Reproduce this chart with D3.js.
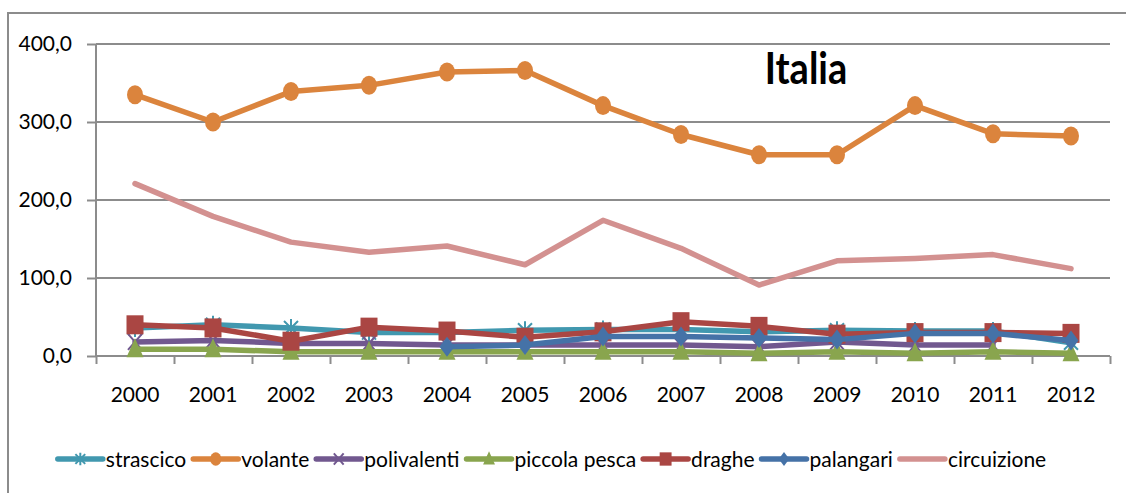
<!DOCTYPE html>
<html>
<head>
<meta charset="utf-8">
<script src="https://cdnjs.cloudflare.com/ajax/libs/d3/7.8.5/d3.min.js"></script>
<style>
body { margin:0; background:#fff; }
svg text { font-family:Lato,"Open Sans",sans-serif; fill:#000; }
</style>
</head>
<body>
<svg id="chart"></svg>
<script>
// categories
var years = ["2000","2001","2002","2003","2004","2005","2006","2007","2008","2009","2010","2011","2012"];
var yTicks = [0,100,200,300,400];

// series values
var strascico   = [36,40,36,30,30,33,34,34,31,33,32,32,17];
var volante     = [335,300,339,347,364,366,321,284,258,258,321,285,282];
var polivalenti = [18,20,16,16,14,14,14,14,12,18,14,14,null];
var piccolaPesca= [8.5,8.5,5.5,5.5,5.5,5.5,5.5,5.5,3.5,5.5,3.5,5.5,3.5];
var draghe      = [40,36,19,37,32,24,31,44,38,28,30,30,29];
var palangari   = [null,null,null,null,12,14,25,25,23,21,29,29,20];
var circuizione = [221,179,146,133,141,117,174,138,91,122,125,130,112];

var seriesNames = ["strascico","volante","polivalenti","piccola pesca","draghe","palangari","circuizione"];
var seriesValues = [strascico,volante,polivalenti,piccolaPesca,draghe,palangari,circuizione];
var seriesColors = ["#4198AF","#DB843D","#71588F","#89A54E","#AA4643","#4572A7","#D39190"];
var seriesMarkers = ["star","circle","x","triangle","square","diamond","none"];

var screen = {width:1126,height:493};
var plot = {left:96,right:1110,top:44,bottom:356};

var svg = d3.select("#chart")
    .attr("width",screen.width)
    .attr("height",screen.height);

// outer frame (only top and left visible)
svg.append("path")
    .attr("d","M8,1200 L8,13 L1200,13")
    .attr("fill","none")
    .attr("stroke","#8c8c8c")
    .attr("stroke-width",2);

var xScale = d3.scaleBand()
    .domain(years)
    .range([plot.left,plot.right]);

var xEdges = d3.scaleLinear()
    .domain([0,years.length])
    .range([plot.left,plot.right]);

var yScale = d3.scaleLinear()
    .domain([0,400])
    .range([plot.bottom,plot.top]);

// gridlines
svg.append("g")
    .selectAll("line")
    .data(yTicks.slice(1))
    .enter()
    .append("line")
    .attr("x1",plot.left)
    .attr("x2",plot.right)
    .attr("y1",function(d){return yScale(d);})
    .attr("y2",function(d){return yScale(d);})
    .attr("stroke","#8c8c8c")
    .attr("stroke-width",2);

var fmt = function(d){ return d3.format(".1f")(d).replace(".",","); };

var yAxis = svg.append("g")
    .attr("transform","translate("+plot.left+",0)")
    .call(d3.axisLeft(yScale).tickValues(yTicks).tickSize(9).tickPadding(15).tickFormat(fmt));
yAxis.selectAll("line,path").attr("stroke","#8c8c8c").attr("stroke-width",2);
yAxis.select(".domain").attr("d","M0,"+plot.top+"V"+plot.bottom);
yAxis.selectAll("text").style("font-size","21px");

var xTicks = svg.append("g")
    .attr("transform","translate(0,"+plot.bottom+")")
    .call(d3.axisBottom(xEdges).tickValues(d3.range(years.length+1)).tickSize(8).tickFormat(""));
xTicks.selectAll("line,path").attr("stroke","#8c8c8c").attr("stroke-width",2);
xTicks.select(".domain").attr("d","M"+plot.left+",0H"+plot.right);

var xLabels = svg.append("g")
    .attr("transform","translate(0,"+plot.bottom+")")
    .call(d3.axisBottom(xScale).tickSize(0).tickPadding(31));
xLabels.select(".domain").remove();
xLabels.selectAll("text").style("font-size","21px");

// marker drawing; s = size factor
var drawMarker = function(g,type,color,s)
{
    if(type=="circle")
    {
        g.append("ellipse").attr("rx",8*s).attr("ry",9.5*s).attr("fill",color);
    }
    else if(type=="square")
    {
        g.append("rect").attr("x",-8.5*s).attr("y",-9.5*s).attr("width",17*s).attr("height",19*s).attr("fill",color);
    }
    else if(type=="triangle")
    {
        g.append("path").attr("d","M0,"+(-11*s)+"L"+(8.5*s)+","+(8*s)+"L"+(-8.5*s)+","+(8*s)+"Z").attr("fill",color);
    }
    else if(type=="diamond")
    {
        g.append("path").attr("d","M0,"+(-10*s)+"L"+(7.5*s)+",0L0,"+(10*s)+"L"+(-7.5*s)+",0Z").attr("fill",color);
    }
    else if(type=="x")
    {
        g.append("path").attr("d","M"+(-7*s)+","+(-8*s)+"L"+(7*s)+","+(8*s)+"M"+(7*s)+","+(-8*s)+"L"+(-7*s)+","+(8*s))
            .attr("stroke",color).attr("stroke-width",2);
    }
    else if(type=="star")
    {
        g.append("path").attr("d","M0,"+(-9*s)+"V"+(9*s)+"M"+(-7*s)+","+(-7*s)+"L"+(7*s)+","+(7*s)+"M"+(7*s)+","+(-7*s)+"L"+(-7*s)+","+(7*s))
            .attr("stroke",color).attr("stroke-width",2);
    }
}

var lineGenerator = d3.line()
    .defined(function(d){return d.v!=null;})
    .x(function(d){return xScale(d.year)+xScale.bandwidth()/2;})
    .y(function(d){return yScale(d.v);});

var seriesG = svg.append("g").attr("id","series");

seriesNames.forEach(function(name,i)
{
    var pts = years.map(function(y,j){return {year:y,v:seriesValues[i][j]};});
    var g = seriesG.append("g");
    g.append("path")
        .datum(pts)
        .attr("d",lineGenerator)
        .attr("fill","none")
        .attr("stroke",seriesColors[i])
        .attr("stroke-width",5.5)
        .attr("stroke-linejoin","round")
        .attr("stroke-linecap","round");
    if(seriesMarkers[i]!="none")
    {
        g.selectAll("g.mk")
            .data(pts.filter(function(d){return d.v!=null;}))
            .enter()
            .append("g")
            .classed("mk",true)
            .attr("transform",function(d){return "translate("+(xScale(d.year)+xScale.bandwidth()/2)+","+yScale(d.v)+")";})
            .each(function(){ drawMarker(d3.select(this),seriesMarkers[i],seriesColors[i],1); });
    }
});

// title
svg.append("text")
    .text("Italia")
    .attr("transform","translate(806,84) scale(1,1.15)")
    .attr("text-anchor","middle")
    .style("font-size","38px")
    .style("font-weight","bold");

// legend
var legend = svg.append("g").attr("id","legend");
var legendY = 459;
var lineLen = 45;
var items = [];
var cursor = 0;
seriesNames.forEach(function(name,i)
{
    var g = legend.append("g");
    g.append("line")
        .attr("x1",0).attr("x2",lineLen)
        .attr("stroke",seriesColors[i])
        .attr("stroke-width",5.5)
        .attr("stroke-linecap","round");
    var mk = g.append("g").attr("transform","translate("+(lineLen/2)+",0)");
    if(seriesMarkers[i]!="none") drawMarker(mk,seriesMarkers[i],seriesColors[i],0.7);
    var t = g.append("text")
        .text(name)
        .attr("x",lineLen+3)
        .attr("dy","0.36em")
        .style("font-size","21px");
    var w = lineLen+3+t.node().getComputedTextLength();
    items.push({g:g,x:cursor});
    cursor += w+7;
});
var total = cursor-7;
var startX = 552-total/2;
items.forEach(function(it)
{
    it.g.attr("transform","translate("+(startX+it.x)+","+legendY+")");
});
</script>
</body>
</html>
